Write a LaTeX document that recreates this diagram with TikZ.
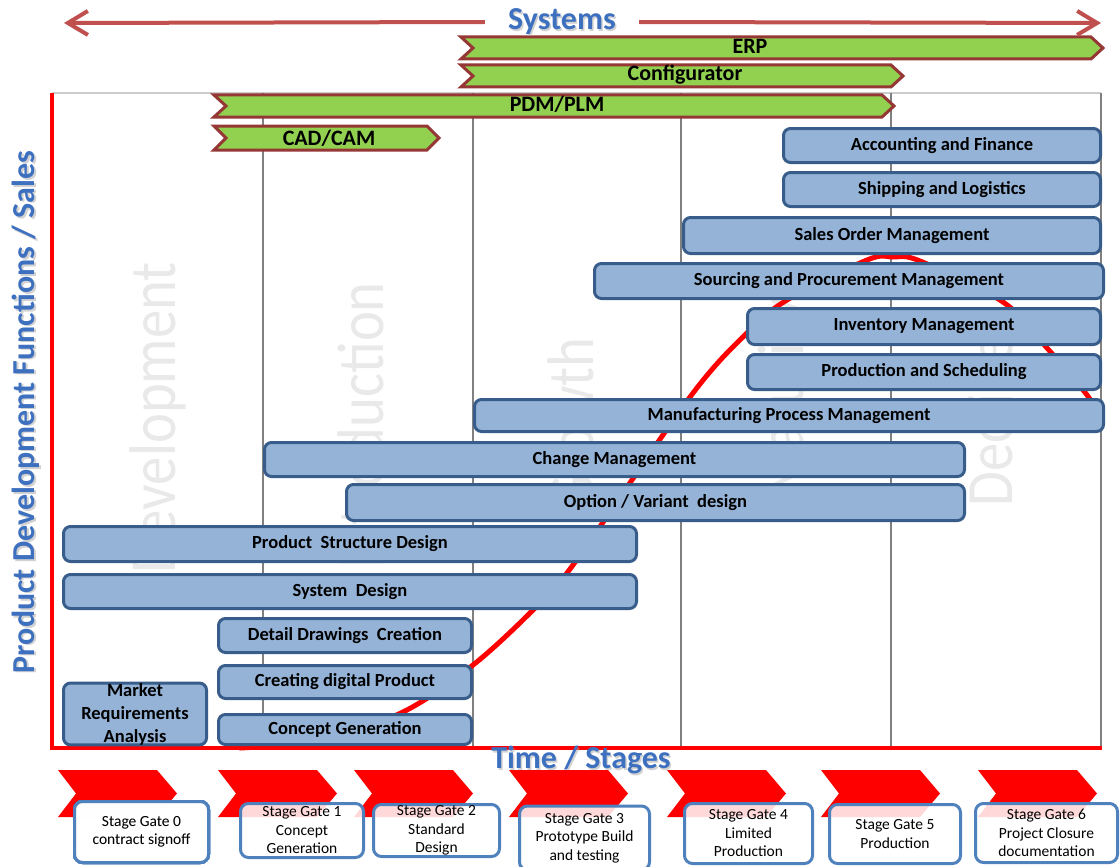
\documentclass[tikz,border=0pt]{standalone}
\usepackage{fontspec}
\setmainfont{Carlito}
\usetikzlibrary{arrows.meta}

\definecolor{bandgreen}{RGB}{146,208,80}
\definecolor{bandedge}{RGB}{149,55,53}
\definecolor{boxfill}{RGB}{149,179,215}
\definecolor{boxedge}{RGB}{56,93,138}
\definecolor{axisblue}{RGB}{62,112,192}
\definecolor{sysred}{RGB}{192,80,77}
\definecolor{gateedge}{RGB}{79,129,189}
\definecolor{phasegray}{RGB}{233,233,233}
\definecolor{colgray}{RGB}{128,128,128}

% function box from its outer corners: name, x1, y1, x2, y2, label
\newcommand\funcbox[6]{%
  \node[bluebox, minimum width={(#4-#2-3)*1pt}, minimum height={(#5-#3-3)*1pt}]
    (#1) at ({(#2+#4)/2},{(#3+#5)/2}) {#6};}

% green system band with notched tail and pointed head: x1, y1, x2, y2
\newcommand\sysband[4]{%
  \draw[bandshape] (#1,#2) -- (#3-12,#2) -- (#3,{(#2+#4)/2}) -- (#3-12,#4)
    -- (#1,#4) -- (#1+12,{(#2+#4)/2}) -- cycle;}

% red stage chevron starting at x
\newcommand\chev[1]{%
  \fill[red] (#1,770) -- (#1+99,770) -- (#1+119,793.5) -- (#1+99,817)
    -- (#1,817) -- (#1+18,793.5) -- cycle;}

\begin{document}
\begin{tikzpicture}[x=1pt,y=-1pt,
  bluebox/.style={draw=boxedge, fill=boxfill, line width=3pt, rounded corners=7pt,
    inner sep=0pt, font=\bfseries\fontsize{18.5}{22}\selectfont, text=black},
  gatebox/.style={draw=gateedge, fill=white, fill opacity=0.85, text opacity=1,
    line width=3pt, rounded corners=8pt, inner sep=0pt, align=center,
    font=\fontsize{15.5}{18.5}\selectfont},
  bandshape/.style={fill=bandgreen, draw=bandedge, line width=3pt, line join=miter},
  bandlabel/.style={font=\bfseries\fontsize{22}{24}\selectfont, inner sep=0pt},
  phase/.style={text=phasegray, font=\fontsize{66}{66}\selectfont, rotate=90,
    xscale=0.86, inner sep=0pt},
  axislabel/.style={text=axisblue, font=\bfseries\fontsize{32}{34}\selectfont, inner sep=0pt},
  shadowlabel/.style={text=black!35, font=\bfseries\fontsize{32}{34}\selectfont,
    inner sep=0pt, text opacity=0.5},
  sysarrow/.style={draw=sysred, line width=4pt, -{Straight Barb[length=20pt,width=24pt]}},
  colline/.style={draw=colgray, line width=2pt},
  lifecycle/.style={draw=red, line width=5pt, line cap=round},
]
\useasboundingbox (0,0) rectangle (1120,867);

% life-cycle phase names behind the chart
\node[phase, anchor=base east] (ph1) at (175,262) {Development};
\node[phase, anchor=base east] (ph2) at (383,282) {Introduction};
\node[phase, anchor=base east] (ph3) at (593,337) {Growth};
\node[phase, anchor=base west] (ph4) at (803,500) {Maturity};
\node[phase, anchor=base west] (ph5) at (1012,507) {Decline};

% chart frame and stage columns
\draw[gray!40, line width=1.5pt] (52,93) -- (1101,93);
\foreach \cx in {263,473,681,891,1101}
  \draw[colline] (\cx,93) -- (\cx,747);

% product life-cycle curve
\draw[lifecycle] plot[smooth, tension=0.55] coordinates {
  (240,748) (320,740) (403,712) (473,665) (533,610) (573,565) (690,397)
  (747,333) (787,300) (867,260) (893,257) (920,261) (1003,302) (1047,348)
  (1087,395) (1100,418)};

% axes
\draw[red, line width=4pt] (52,93) -- (52,747.5) -- (1102,747.5);

% system bands
\sysband{461}{37}{1103}{59}
\sysband{461}{65}{903}{87}
\sysband{214}{95}{894}{117}
\sysband{214}{126}{439}{150}
\node[bandlabel] (erp) at (750,46) {ERP};
\node[bandlabel] (conf) at (685,75) {Configurator};
\node[bandlabel] (pdm) at (557,104) {PDM/PLM};
\node[bandlabel] (cad) at (329,138) {CAD/CAM};

% functions
\funcbox{acct}{782}{127}{1102}{164}{Accounting and Finance}
\funcbox{ship}{782}{171}{1102}{208}{Shipping and Logistics}
\funcbox{sales}{682}{216}{1102}{255}{Sales Order Management}
\funcbox{sourc}{593}{262}{1105}{300}{Sourcing and Procurement Management}
\funcbox{inv}{746}{307}{1102}{346}{Inventory Management}
\funcbox{sched}{746}{353}{1102}{391}{Production and Scheduling}
\funcbox{mfg}{473}{398}{1105}{433}{Manufacturing Process Management}
\funcbox{change}{263}{441}{966}{478}{Change Management}
\funcbox{option}{345}{483}{966}{522}{Option / Variant~ design}
\funcbox{pstruct}{62}{525}{638}{563}{Product~ Structure Design}
\funcbox{sysdes}{62}{573}{638}{610}{System~ Design}
\funcbox{detail}{217}{617}{473}{654}{Detail Drawings~ Creation}
\funcbox{digital}{217}{664}{473}{700}{Creating digital Product}
\funcbox{concept}{217}{713}{473}{746}{Concept Generation}
\node[bluebox, align=center, font=\bfseries\fontsize{18.5}{23}\selectfont,
  minimum width=143pt, minimum height=61pt] (market) at (135,714)
  {Market\\Requirements\\Analysis};

% axis titles
\node[shadowlabel, inner xsep=23pt] at (563.5,23.5) {Systems};
\node[axislabel, inner xsep=23pt] (sys) at (562,22) {Systems};
\coordinate (sysL) at (64,23);
\coordinate (sysR) at (1101,23);
\draw[sysarrow] (sys.west) -- (sysL);
\draw[sysarrow] (sys.east) -- (sysR);

\node[shadowlabel] at (582.5,761.5) {Time / Stages};
\node[axislabel] (time) at (581,760) {Time / Stages};

\node[shadowlabel, rotate=90] at (27.5,413.5) {Product Development Functions / Sales};
\node[axislabel, rotate=90] (func) at (26,412) {Product Development Functions / Sales};

% stage gates
\foreach \sx in {58,218,354,509,667,821,978} \chev{\sx}
\node[gatebox, minimum width=134pt, minimum height=61pt] (g0) at (141.5,832)
  {Stage Gate 0\\contract signoff};
\node[gatebox, minimum width=123pt, minimum height=54pt] (g1) at (302,830.5)
  {Stage Gate 1\\Concept\\Generation};
\node[gatebox, minimum width=126pt, minimum height=52pt] (g2) at (436.5,830.5)
  {Stage Gate 2\\Standard\\Design};
\node[gatebox, minimum width=130pt, minimum height=64pt] (g3) at (584.5,838)
  {Stage Gate 3\\Prototype Build\\and testing};
\node[gatebox, minimum width=128pt, minimum height=60pt] (g4) at (748.5,833.5)
  {Stage Gate 4\\Limited\\Production};
\node[gatebox, minimum width=131pt, minimum height=59pt] (g5) at (895,834)
  {Stage Gate 5\\Production};
\node[gatebox, minimum width=142pt, minimum height=59pt] (g6) at (1046.5,833)
  {Stage Gate 6\\Project Closure\\documentation};
\end{tikzpicture}
\end{document}
